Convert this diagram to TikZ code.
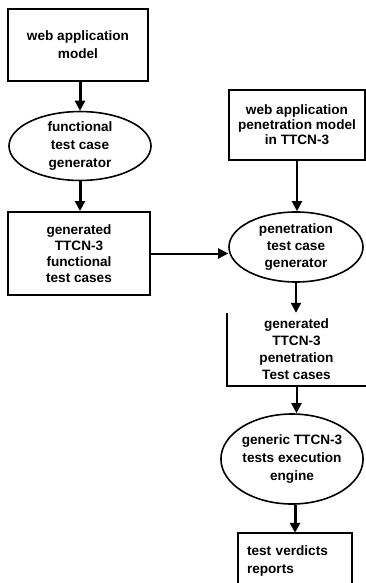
\documentclass[tikz,border=0pt]{standalone}
\usepackage{fontspec}
\setmainfont{Liberation Sans}
\usetikzlibrary{shapes.geometric,arrows.meta}
\tikzset{
  lbl/.style={font=\bfseries\fontsize{13.6}{17}\selectfont, align=center, inner sep=0pt},
  boxnode/.style={lbl, rectangle, draw, line width=2pt},
  ellnode/.style={lbl, ellipse, draw, line width=1.6pt},
  flow/.style={line width=2pt, -{Triangle[width=10pt,length=10pt]}},
  heavyflow/.style={flow, line width=3pt},
  plain/.style={line width=2pt}
}
\begin{document}
\begin{tikzpicture}[x=1pt,y=-1pt]
  \useasboundingbox (0,0) rectangle (366,583);
  \fill[white] (0,0) rectangle (366,583);
  \clip (0,0) rectangle (366,583);

  % left column
  \node[boxnode, minimum width=140pt, minimum height=72pt,
        font=\bfseries\fontsize{13.6}{18}\selectfont] (model) at (78,45)
        {web application\\model};
  \node[ellnode, minimum width=142pt, minimum height=68pt,
        font=\bfseries\fontsize{13.6}{18}\selectfont] (fgen) at (80,146)
        {functional\\test case\\generator};
  \node[boxnode, minimum width=142pt, minimum height=83pt,
        font=\bfseries\fontsize{13.6}{16}\selectfont] (fcases) at (79,253.5)
        {generated\\TTCN-3\\functional\\test cases};

  % right column
  \node[boxnode, minimum width=136pt, minimum height=70pt,
        font=\bfseries\fontsize{13.6}{15}\selectfont] (pmodel) at (297,125)
        {web application\\penetration model\\in TTCN-3};
  \node[ellnode, minimum width=134pt, minimum height=70pt] (pgen) at (296,247)
        {penetration\\test case\\generator};
  \node[lbl, minimum width=139pt, minimum height=73pt] (pcases) at (296.5,349.5)
        {generated\\TTCN-3\\penetration\\Test cases};
  \draw[plain] (pcases.north west) -- (pcases.south west) -- (pcases.south east);
  \node[ellnode, minimum width=141pt, minimum height=90pt,
        font=\bfseries\fontsize{13.6}{18}\selectfont] (engine) at (292,459)
        {generic TTCN-3\\tests execution\\engine};
  \node[lbl, align=left, minimum width=114pt, minimum height=56pt,
        text width=96pt, inner xsep=9pt,
        font=\bfseries\fontsize{13.6}{18}\selectfont] (verdict) at (295,561)
        {test verdicts\\reports};
  \draw[plain] (verdict.south west) -- (verdict.north west)
               -- (verdict.north east) -- (verdict.south east);

  % connectors
  \draw[heavyflow] (fgen.north |- model.south) -- (fgen.north);
  \draw[heavyflow] (fgen.south) -- (fgen.south |- fcases.north);
  \draw[flow] (fcases.east) -- (fcases.east -| pgen.west);
  \draw[flow] (pmodel.south) -- (pmodel.south |- pgen.north);
  \draw[flow] (pgen.south) -- (pgen.south |- pcases.north);
  \draw[flow] (pcases.south) -- (pcases.south |- engine.north);
  \draw[heavyflow] (verdict.north |- engine.south) -- (verdict.north);
\end{tikzpicture}
\end{document}
